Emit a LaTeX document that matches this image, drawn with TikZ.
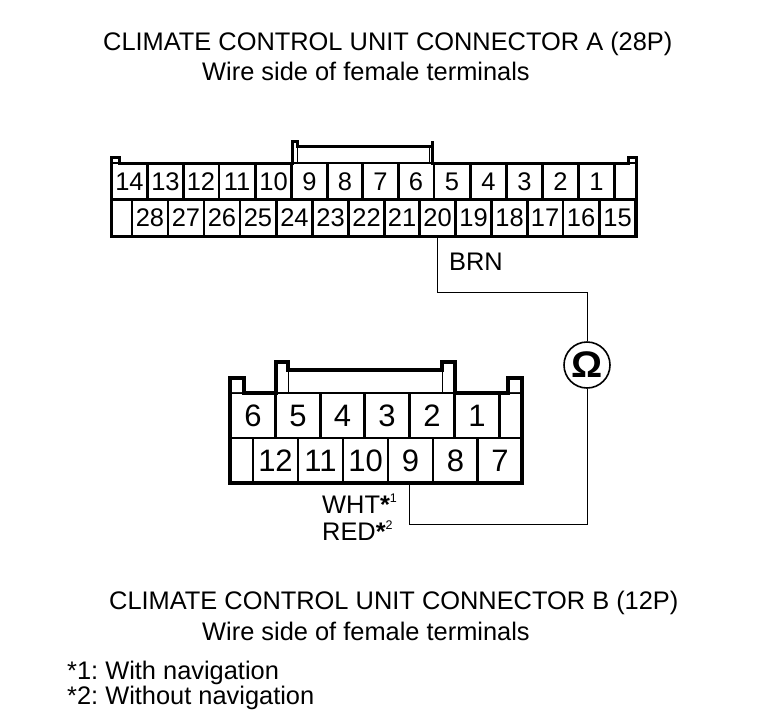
\documentclass[tikz,border=0pt]{standalone}
\usepackage{fontspec}
\setmainfont{Liberation Sans}
\frenchspacing
\tikzstyle{pinA} = [rectangle, draw, line width=2.4pt, minimum width=36pt, minimum height=37pt, inner sep=0pt, font={\fontsize{25.5}{27}\selectfont}]
\tikzstyle{pinB} = [rectangle, draw, line width=2.6pt, minimum width=45pt, minimum height=45pt, inner sep=0pt, font={\fontsize{31}{33}\selectfont}]
\tikzstyle{shell} = [line width=3pt]
\tikzstyle{shellB} = [line width=3.5pt]
\tikzstyle{inner} = [line width=1pt]
\tikzstyle{wire} = [line width=1pt]
\tikzstyle{label} = [inner sep=0pt, anchor=west, font={\fontsize{25.4}{27}\selectfont}]
\newcommand{\starmark}[1]{{\bfseries *}\raisebox{11pt}{\fontsize{12.5}{12.5}\selectfont #1}}
\begin{document}
\begin{tikzpicture}[x=1pt,y=-1pt]
            \useasboundingbox (0,0) rectangle (768,720);
            % connector A, upper row
            \node[pinA, minimum width=37pt] (a14) at (129.5,181.5) {14};
            \node[pinA, right of=a14, node distance=36pt] (a13) {13};
            \node[pinA, right of=a13, node distance=35.5pt] (a12) {12};
            \node[pinA, right of=a12, node distance=36pt] (a11) {11};
            \node[pinA, right of=a11, node distance=36.5pt] (a10) {10};
            \node[pinA, right of=a10, node distance=36pt] (a9) {9};
            \node[pinA, right of=a9, node distance=35.5pt] (a8) {8};
            \node[pinA, right of=a8, node distance=35.5pt] (a7) {7};
            \node[pinA, right of=a7, node distance=35.5pt] (a6) {6};
            \node[pinA, right of=a6, node distance=36pt] (a5) {5};
            \node[pinA, right of=a5, node distance=36.5pt] (a4) {4};
            \node[pinA, right of=a4, node distance=36pt] (a3) {3};
            \node[pinA, right of=a3, node distance=36pt] (a2) {2};
            \node[pinA, right of=a2, node distance=36pt] (a1) {1};
            \node[pinA, minimum width=22pt] (ablank) at (625,181.5) {};
            % connector A, lower row
            \node[pinA, minimum width=21pt] (ablank2) at (121.5,218) {};
            \node[pinA] (a28) at (150,218) {28};
            \node[pinA, right of=a28, node distance=36pt] (a27) {27};
            \node[pinA, right of=a27, node distance=36pt] (a26) {26};
            \node[pinA, right of=a26, node distance=36pt] (a25) {25};
            \node[pinA, right of=a25, node distance=36.5pt] (a24) {24};
            \node[pinA, right of=a24, node distance=36pt] (a23) {23};
            \node[pinA, right of=a23, node distance=36pt] (a22) {22};
            \node[pinA, right of=a22, node distance=35.5pt] (a21) {21};
            \node[pinA, right of=a21, node distance=35.5pt] (a20) {20};
            \node[pinA, right of=a20, node distance=36pt] (a19) {19};
            \node[pinA, right of=a19, node distance=36pt] (a18) {18};
            \node[pinA, right of=a18, node distance=35.5pt] (a17) {17};
            \node[pinA, right of=a17, node distance=36pt] (a16) {16};
            \node[pinA, right of=a16, node distance=36.5pt] (a15) {15};
            % connector A, housing
            \draw[shell] (111,236) -- (111,157) -- (119,157) -- (119,163.5) -- (292,163.5) -- (292,141) -- (297,141) -- (297,146) -- (432,146) -- (432,163.5) -- (628,163.5) -- (628,157) -- (636,157) -- (636,236) -- cycle;
            \draw[shell] (432,146) -- (432,141);
            \draw[inner] (297,146) -- (297,163) (429,146) -- (429,163);
            % connector B, upper row
            \node[pinB] (b6) at (253,415.5) {6};
            \node[pinB] (b5) at (298,415.5) {5};
            \node[pinB, right of=b5, node distance=44.5pt] (b4) {4};
            \node[pinB, right of=b4, node distance=44.5pt] (b3) {3};
            \node[pinB, right of=b3, node distance=45pt] (b2) {2};
            \node[pinB, right of=b2, node distance=45pt] (b1) {1};
            \node[pinB, minimum width=23pt] (bblank) at (510.5,415.5) {};
            % connector B, lower row
            \node[pinB, minimum width=24pt] (bblank2) at (241,460.5) {};
            \node[pinB] (b12) at (275.5,460.5) {12};
            \node[pinB, right of=b12, node distance=45pt] (b11) {11};
            \node[pinB, right of=b11, node distance=45pt] (b10) {10};
            \node[pinB, right of=b10, node distance=45pt] (b9) {9};
            \node[pinB, right of=b9, node distance=45pt] (b8) {8};
            \node[pinB, right of=b8, node distance=44.5pt] (b7) {7};
            % connector B, housing
            \fill[white] (231,379) rectangle (243,392) (509,379) rectangle (521,392);
            \draw[shellB] (230,483) -- (230,378) -- (244,378) -- (244,393) -- (276,393) -- (276,362) -- (288,362) -- (288,370) -- (442,370) -- (442,362) -- (455,362) -- (455,393) -- (508,393) -- (508,378) -- (522,378) -- (522,483) -- cycle;
            \draw[inner] (288,370) -- (288,393) (442,370) -- (442,393);
            % meter and wires
            \node[circle, draw, line width=1.6pt, minimum size=46pt, inner sep=0pt, font={\fontsize{37}{37}\selectfont\bfseries}] (ohm) at (587,365) {\scalebox{1.05}[1]{Ω}};
            \coordinate (bendA) at (587,292);
            \coordinate (bendB) at (587,524);
            \coordinate (bendC) at (409,524);
            \draw[wire] (a20.south) |- (bendA) -- (ohm.north);
            \draw[wire] (ohm.south) -- (bendB) -- (bendC) -- (bendC |- b9.south);
            % labels
            \node[label] (titleA) at (103,43.5) {CLIMATE CONTROL UNIT CONNECTOR A (28P)};
            \node[label] (subA) at (202,71.5) {Wire side of female terminals};
            \node[label] (brn) at (449,262) {BRN};
            \node[label] (wht) at (322,504) {WHT\starmark{1}};
            \node[label] (red) at (322,531) {RED\starmark{2}};
            \node[label] (titleB) at (109,602.5) {CLIMATE CONTROL UNIT CONNECTOR B (12P)};
            \node[label] (subB) at (202,631.5) {Wire side of female terminals};
            \node[label] (note1) at (67,673) {*1: With navigation};
            \node[label] (note2) at (67,698) {*2: Without navigation};
        \end{tikzpicture}
\end{document}
